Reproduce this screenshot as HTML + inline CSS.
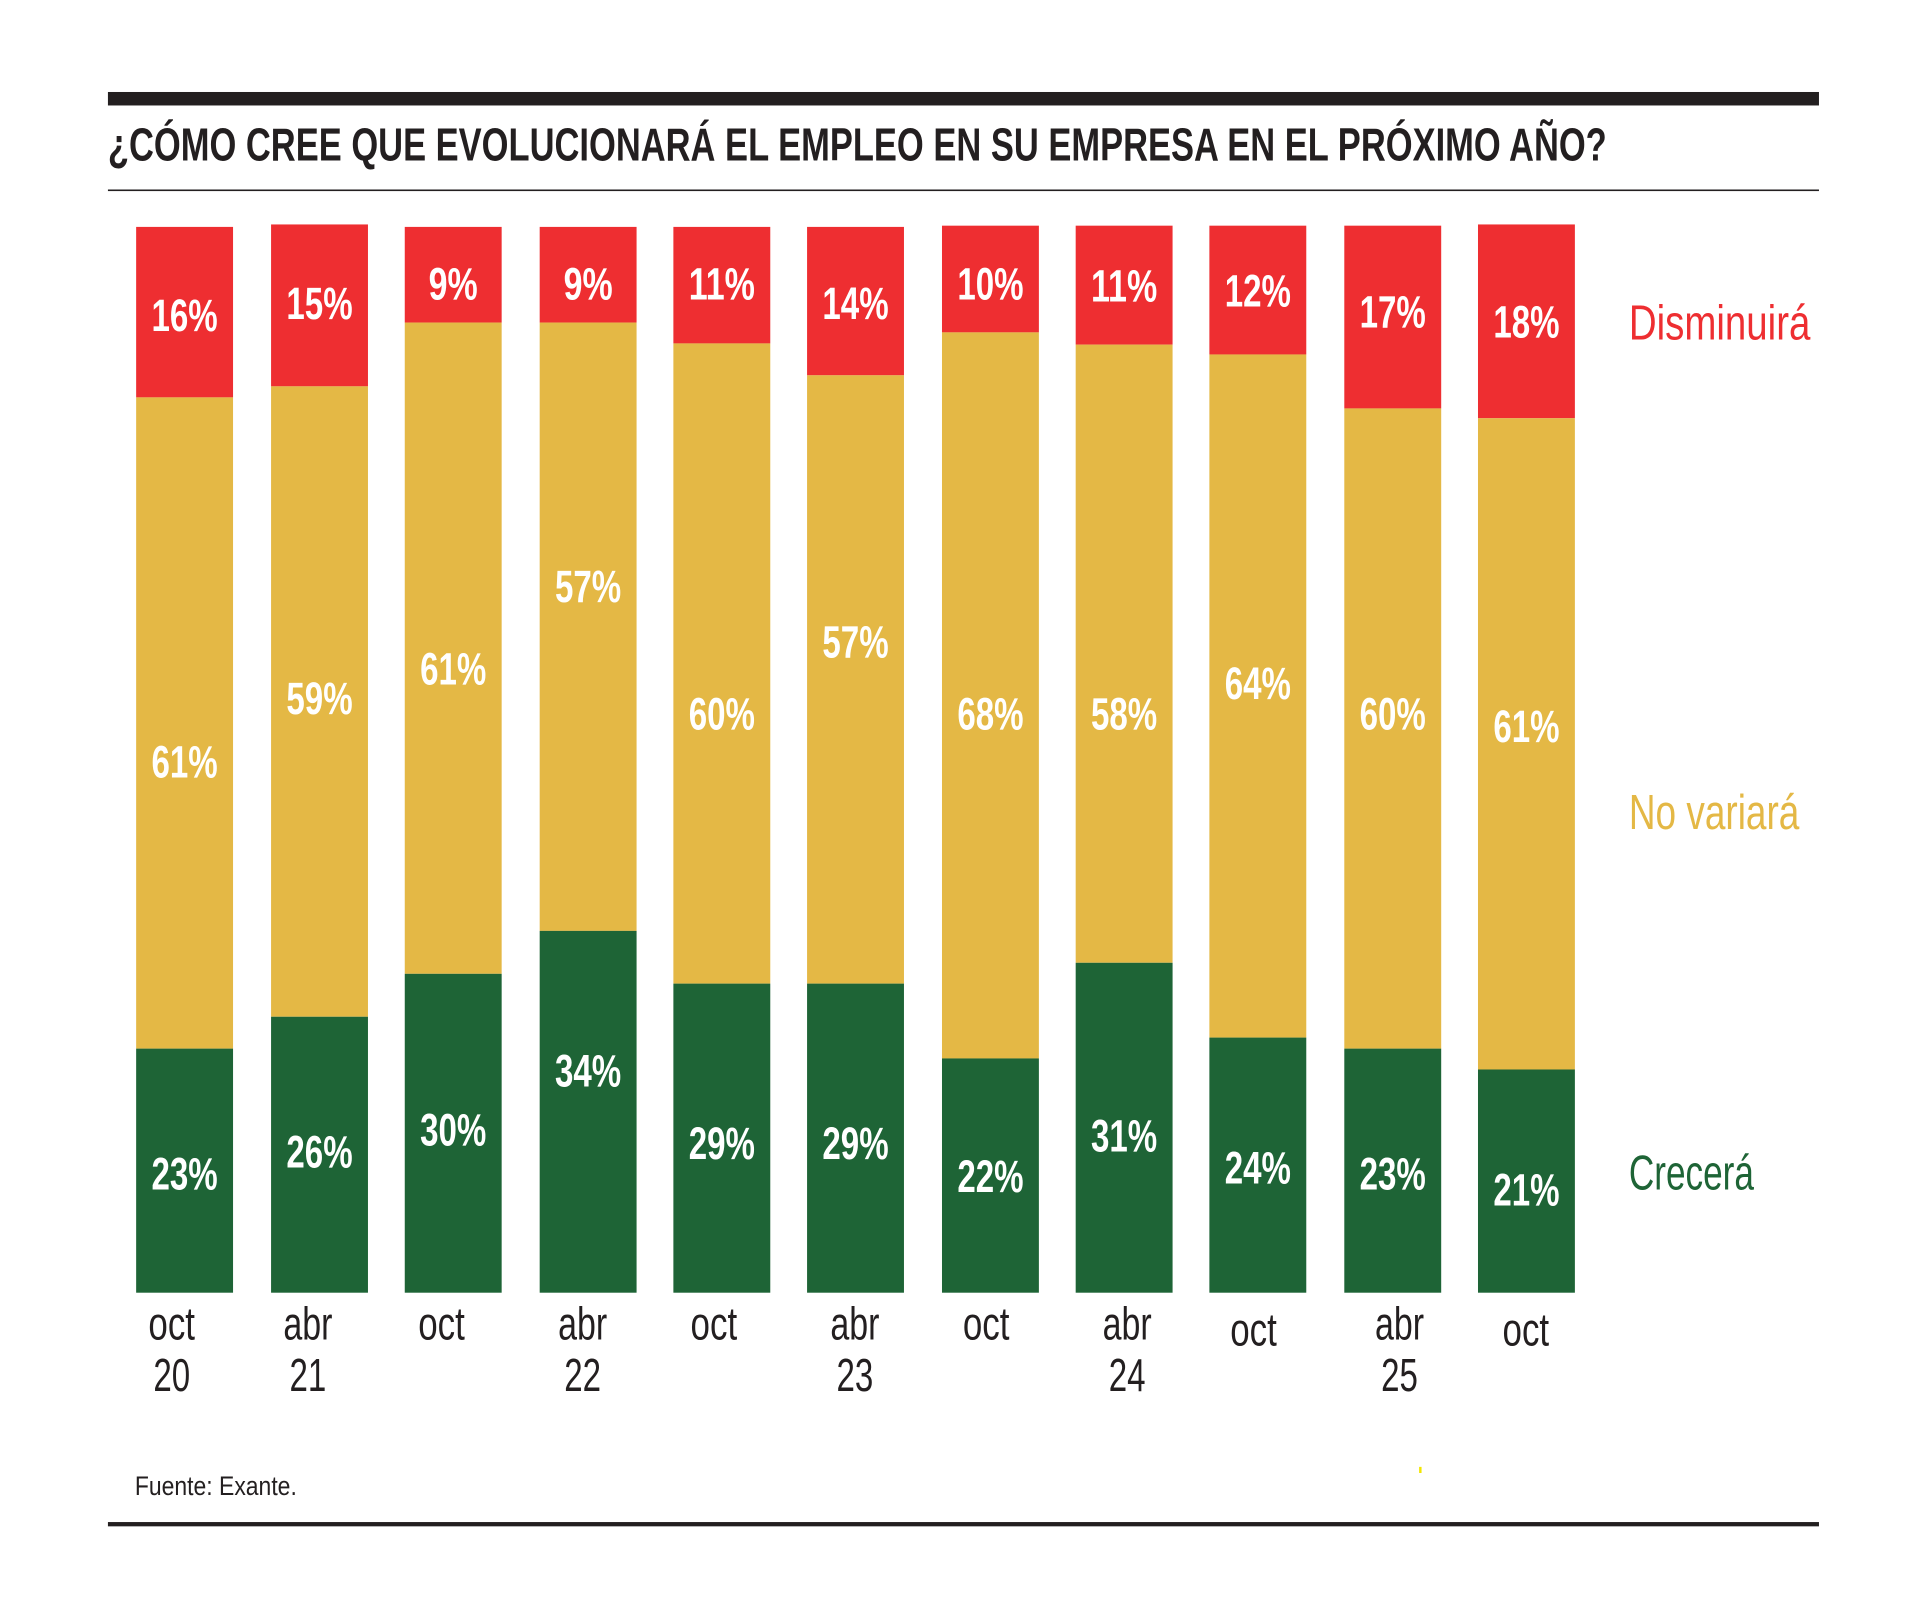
<!DOCTYPE html>
<html><head><meta charset="utf-8"><style>html,body{margin:0;padding:0;background:#fff}svg{display:block}</style></head>
<body>
<svg width="1922" height="1603" viewBox="0 0 1567 1307" preserveAspectRatio="none" xmlns="http://www.w3.org/2000/svg" font-family="'Liberation Sans Narrow','Liberation Sans',sans-serif">
<rect x="0" y="0" width="1567" height="1307" fill="#fff"/>
<rect x="88" y="75" width="1395" height="11" fill="#231f20"/>
<text x="88" y="131" font-size="38" font-weight="bold" fill="#231f20" textLength="1222" lengthAdjust="spacingAndGlyphs">¿CÓMO CREE QUE EVOLUCIONARÁ EL EMPLEO EN SU EMPRESA EN EL PRÓXIMO AÑO?</text>
<rect x="88" y="154.5" width="1395" height="1.3" fill="#231f20"/>

<g>
<rect x="111" y="185" width="79" height="139" fill="#ee2e31"/><rect x="111" y="324" width="79" height="531" fill="#e4b845"/><rect x="111" y="855" width="79" height="199" fill="#1e6436"/>
<rect x="221" y="183" width="79" height="132" fill="#ee2e31"/><rect x="221" y="315" width="79" height="514" fill="#e4b845"/><rect x="221" y="829" width="79" height="225" fill="#1e6436"/>
<rect x="330" y="185" width="79" height="78" fill="#ee2e31"/><rect x="330" y="263" width="79" height="531" fill="#e4b845"/><rect x="330" y="794" width="79" height="260" fill="#1e6436"/>
<rect x="440" y="185" width="79" height="78" fill="#ee2e31"/><rect x="440" y="263" width="79" height="496" fill="#e4b845"/><rect x="440" y="759" width="79" height="295" fill="#1e6436"/>
<rect x="549" y="185" width="79" height="95" fill="#ee2e31"/><rect x="549" y="280" width="79" height="522" fill="#e4b845"/><rect x="549" y="802" width="79" height="252" fill="#1e6436"/>
<rect x="658" y="185" width="79" height="121" fill="#ee2e31"/><rect x="658" y="306" width="79" height="496" fill="#e4b845"/><rect x="658" y="802" width="79" height="252" fill="#1e6436"/>
<rect x="768" y="184" width="79" height="87" fill="#ee2e31"/><rect x="768" y="271" width="79" height="592" fill="#e4b845"/><rect x="768" y="863" width="79" height="191" fill="#1e6436"/>
<rect x="877" y="184" width="79" height="97" fill="#ee2e31"/><rect x="877" y="281" width="79" height="504" fill="#e4b845"/><rect x="877" y="785" width="79" height="269" fill="#1e6436"/>
<rect x="986" y="184" width="79" height="105" fill="#ee2e31"/><rect x="986" y="289" width="79" height="557" fill="#e4b845"/><rect x="986" y="846" width="79" height="208" fill="#1e6436"/>
<rect x="1096" y="184" width="79" height="149" fill="#ee2e31"/><rect x="1096" y="333" width="79" height="522" fill="#e4b845"/><rect x="1096" y="855" width="79" height="199" fill="#1e6436"/>
<rect x="1205" y="183" width="79" height="158" fill="#ee2e31"/><rect x="1205" y="341" width="79" height="531" fill="#e4b845"/><rect x="1205" y="872" width="79" height="182" fill="#1e6436"/>
</g>

<g font-size="37" font-weight="bold" fill="#fff" text-anchor="middle" lengthAdjust="spacingAndGlyphs">
<text x="150.5" y="270" textLength="54" lengthAdjust="spacingAndGlyphs">16%</text>
<text x="260.5" y="260" textLength="54" lengthAdjust="spacingAndGlyphs">15%</text>
<text x="369.5" y="244" textLength="40" lengthAdjust="spacingAndGlyphs">9%</text>
<text x="479.5" y="244" textLength="40" lengthAdjust="spacingAndGlyphs">9%</text>
<text x="588.5" y="244" textLength="54" lengthAdjust="spacingAndGlyphs">11%</text>
<text x="697.5" y="260" textLength="54" lengthAdjust="spacingAndGlyphs">14%</text>
<text x="807.5" y="244" textLength="54" lengthAdjust="spacingAndGlyphs">10%</text>
<text x="916.5" y="246" textLength="54" lengthAdjust="spacingAndGlyphs">11%</text>
<text x="1025.5" y="250" textLength="54" lengthAdjust="spacingAndGlyphs">12%</text>
<text x="1135.5" y="267" textLength="54" lengthAdjust="spacingAndGlyphs">17%</text>
<text x="1244.5" y="275" textLength="54" lengthAdjust="spacingAndGlyphs">18%</text>

<text x="150.5" y="634" textLength="54" lengthAdjust="spacingAndGlyphs">61%</text>
<text x="260.5" y="582" textLength="54" lengthAdjust="spacingAndGlyphs">59%</text>
<text x="369.5" y="558" textLength="54" lengthAdjust="spacingAndGlyphs">61%</text>
<text x="479.5" y="491" textLength="54" lengthAdjust="spacingAndGlyphs">57%</text>
<text x="588.5" y="595" textLength="54" lengthAdjust="spacingAndGlyphs">60%</text>
<text x="697.5" y="536" textLength="54" lengthAdjust="spacingAndGlyphs">57%</text>
<text x="807.5" y="595" textLength="54" lengthAdjust="spacingAndGlyphs">68%</text>
<text x="916.5" y="595" textLength="54" lengthAdjust="spacingAndGlyphs">58%</text>
<text x="1025.5" y="570" textLength="54" lengthAdjust="spacingAndGlyphs">64%</text>
<text x="1135.5" y="595" textLength="54" lengthAdjust="spacingAndGlyphs">60%</text>
<text x="1244.5" y="605" textLength="54" lengthAdjust="spacingAndGlyphs">61%</text>

<text x="150.5" y="970" textLength="54" lengthAdjust="spacingAndGlyphs">23%</text>
<text x="260.5" y="952" textLength="54" lengthAdjust="spacingAndGlyphs">26%</text>
<text x="369.5" y="934" textLength="54" lengthAdjust="spacingAndGlyphs">30%</text>
<text x="479.5" y="886" textLength="54" lengthAdjust="spacingAndGlyphs">34%</text>
<text x="588.5" y="945" textLength="54" lengthAdjust="spacingAndGlyphs">29%</text>
<text x="697.5" y="945" textLength="54" lengthAdjust="spacingAndGlyphs">29%</text>
<text x="807.5" y="972" textLength="54" lengthAdjust="spacingAndGlyphs">22%</text>
<text x="916.5" y="939" textLength="54" lengthAdjust="spacingAndGlyphs">31%</text>
<text x="1025.5" y="965" textLength="54" lengthAdjust="spacingAndGlyphs">24%</text>
<text x="1135.5" y="970" textLength="54" lengthAdjust="spacingAndGlyphs">23%</text>
<text x="1244.5" y="983" textLength="54" lengthAdjust="spacingAndGlyphs">21%</text>
</g>

<g font-size="38" fill="#231f20" text-anchor="middle">
<text x="140" y="1092" textLength="38" lengthAdjust="spacingAndGlyphs">oct</text>
<text x="140" y="1134" textLength="30" lengthAdjust="spacingAndGlyphs">20</text>
<text x="251" y="1092" textLength="40" lengthAdjust="spacingAndGlyphs">abr</text>
<text x="251" y="1134" textLength="30" lengthAdjust="spacingAndGlyphs">21</text>
<text x="360" y="1092" textLength="38" lengthAdjust="spacingAndGlyphs">oct</text>
<text x="475" y="1092" textLength="40" lengthAdjust="spacingAndGlyphs">abr</text>
<text x="475" y="1134" textLength="30" lengthAdjust="spacingAndGlyphs">22</text>
<text x="582" y="1092" textLength="38" lengthAdjust="spacingAndGlyphs">oct</text>
<text x="697" y="1092" textLength="40" lengthAdjust="spacingAndGlyphs">abr</text>
<text x="697" y="1134" textLength="30" lengthAdjust="spacingAndGlyphs">23</text>
<text x="804" y="1092" textLength="38" lengthAdjust="spacingAndGlyphs">oct</text>
<text x="919" y="1092" textLength="40" lengthAdjust="spacingAndGlyphs">abr</text>
<text x="919" y="1134" textLength="30" lengthAdjust="spacingAndGlyphs">24</text>
<text x="1022" y="1097" textLength="38" lengthAdjust="spacingAndGlyphs">oct</text>
<text x="1141" y="1092" textLength="40" lengthAdjust="spacingAndGlyphs">abr</text>
<text x="1141" y="1134" textLength="30" lengthAdjust="spacingAndGlyphs">25</text>
<text x="1244" y="1097" textLength="38" lengthAdjust="spacingAndGlyphs">oct</text>
</g>

<rect x="88" y="1241" width="1395" height="3.5" fill="#231f20"/>
<text x="110" y="1219" font-size="22" fill="#231f20" textLength="132" lengthAdjust="spacingAndGlyphs">Fuente: Exante.</text>
<text x="1328" y="277" font-size="40" fill="#ee2e31" textLength="148" lengthAdjust="spacingAndGlyphs">Disminuirá</text>
<text x="1328" y="676" font-size="40" fill="#e4b845" textLength="139" lengthAdjust="spacingAndGlyphs">No variará</text>
<text x="1328" y="970" font-size="40" fill="#1e6436" textLength="102" lengthAdjust="spacingAndGlyphs">Crecerá</text>
<rect x="1157" y="1196" width="2" height="5" fill="#f2e600"/>
</svg>
</body></html>
